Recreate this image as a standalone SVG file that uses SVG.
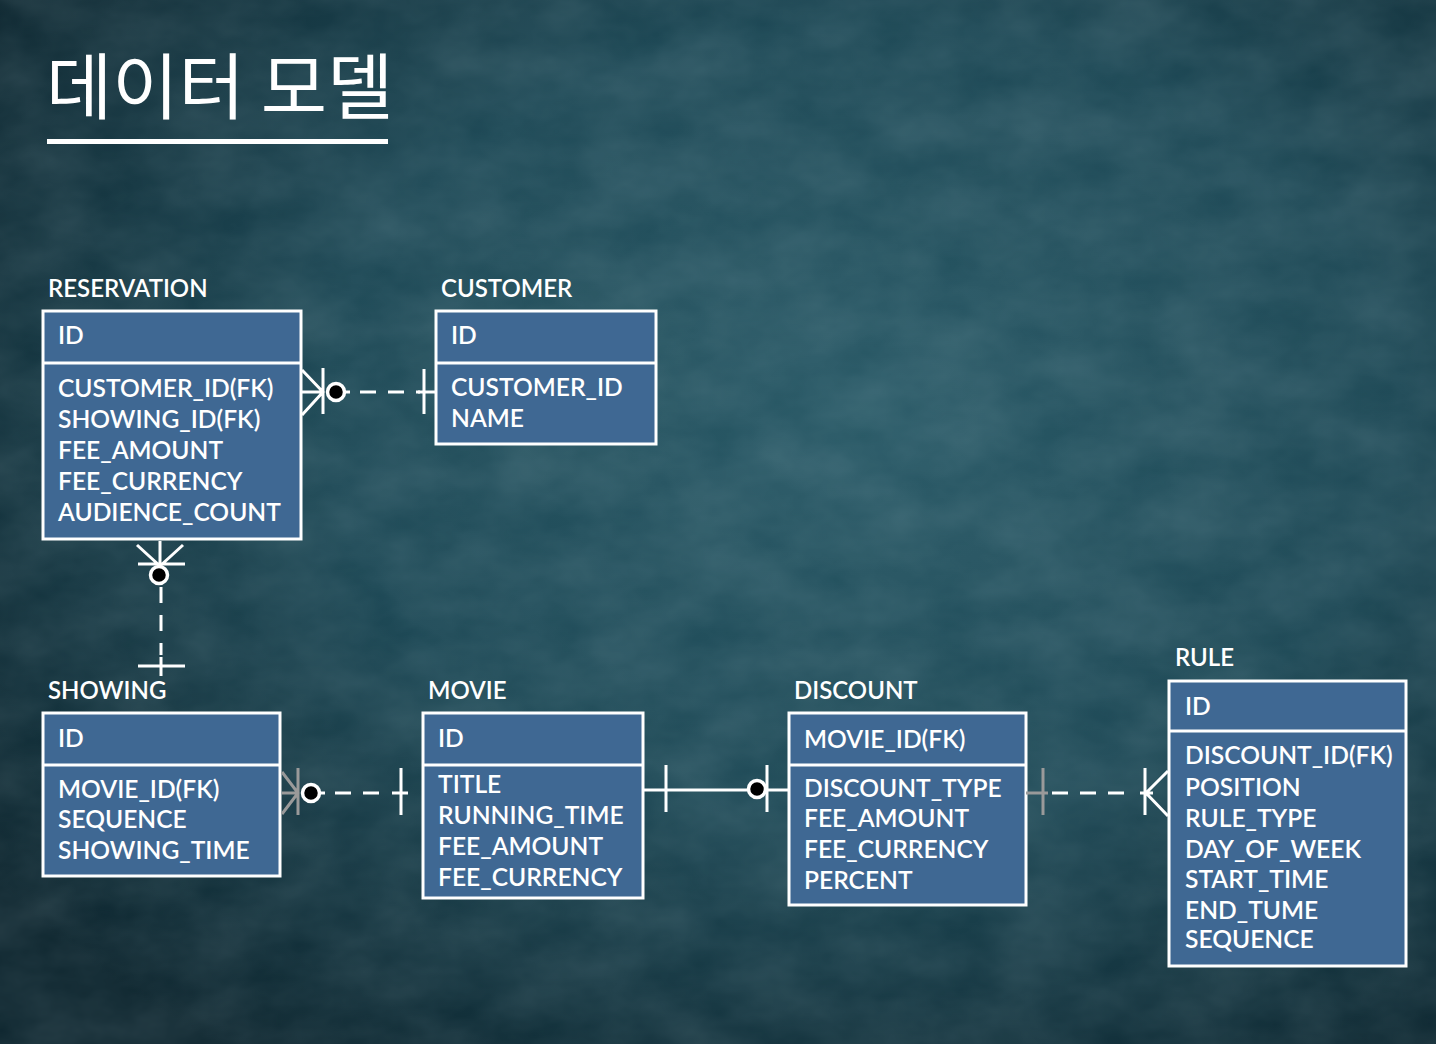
<svg xmlns="http://www.w3.org/2000/svg" width="1436" height="1044" viewBox="0 0 1436 1044">
<defs>
<radialGradient id="bg" cx="60%" cy="40%" r="75%">
<stop offset="0" stop-color="#2a5a67"/>
<stop offset="0.5" stop-color="#1e4956"/>
<stop offset="1" stop-color="#0d252e"/>
</radialGradient>
<filter id="noise" x="0" y="0" width="100%" height="100%">
<feTurbulence type="fractalNoise" baseFrequency="0.012 0.02" numOctaves="4" seed="7"/>
<feColorMatrix type="matrix" values="0 0 0 0 0.7  0 0 0 0 0.85  0 0 0 0 0.9  0 0 0 0.35 -0.05"/>
</filter>
<style>
.bx{fill:#3f6893;stroke:#fff;stroke-width:3}
.dv{stroke:#fff;stroke-width:3}
.t{font-family:Lato,"Noto Sans","Liberation Sans",sans-serif;font-size:24.6px;font-weight:600;fill:#fff}
.lb{font-family:Lato,"Noto Sans","Liberation Sans",sans-serif;font-size:24px;font-weight:600;fill:#fff}
.ln{stroke:#fff;stroke-width:3;fill:none}
.gr{stroke:#9a9a9a;stroke-width:3;fill:none}
.ds{stroke:#fff;stroke-width:3;fill:none;stroke-dasharray:16 12}
.cc{fill:#000;stroke:#fff;stroke-width:3.5}
</style>
</defs>
<rect width="1436" height="1044" fill="url(#bg)"/>
<rect width="1436" height="1044" filter="url(#noise)" opacity="0.45"/>

<g id="title">
<text x="46" y="113" font-family="'Noto Sans CJK KR',sans-serif" font-size="72" fill="#fff" font-weight="400">데이터 모델</text>
<rect x="47" y="139" width="341" height="5" fill="#fff"/>
</g>

<g id="reservation">
<text class="lb" x="48" y="297">RESERVATION</text>
<rect class="bx" x="43" y="311" width="258" height="228"/>
<line class="dv" x1="43" y1="363" x2="301" y2="363"/>
<text class="t" x="58" y="344">ID</text>
<text class="t" x="58" y="397">CUSTOMER_ID(FK)</text>
<text class="t" x="58" y="428">SHOWING_ID(FK)</text>
<text class="t" x="58" y="459">FEE_AMOUNT</text>
<text class="t" x="58" y="490">FEE_CURRENCY</text>
<text class="t" x="58" y="521">AUDIENCE_COUNT</text>
</g>

<g id="customer">
<text class="lb" x="441" y="297">CUSTOMER</text>
<rect class="bx" x="436" y="311" width="220" height="133"/>
<line class="dv" x1="436" y1="363" x2="656" y2="363"/>
<text class="t" x="451" y="344">ID</text>
<text class="t" x="451" y="396">CUSTOMER_ID</text>
<text class="t" x="451" y="427">NAME</text>
</g>

<g id="showing">
<text class="lb" x="48" y="699">SHOWING</text>
<rect class="bx" x="43" y="713" width="237" height="163"/>
<line class="dv" x1="43" y1="765" x2="280" y2="765"/>
<text class="t" x="58" y="747">ID</text>
<text class="t" x="58" y="798">MOVIE_ID(FK)</text>
<text class="t" x="58" y="828">SEQUENCE</text>
<text class="t" x="58" y="859">SHOWING_TIME</text>
</g>

<g id="movie">
<text class="lb" x="428" y="699">MOVIE</text>
<rect class="bx" x="423" y="713" width="220" height="185"/>
<line class="dv" x1="423" y1="765" x2="643" y2="765"/>
<text class="t" x="438" y="747">ID</text>
<text class="t" x="438" y="793">TITLE</text>
<text class="t" x="438" y="824">RUNNING_TIME</text>
<text class="t" x="438" y="855">FEE_AMOUNT</text>
<text class="t" x="438" y="886">FEE_CURRENCY</text>
</g>

<g id="discount">
<text class="lb" x="794" y="699">DISCOUNT</text>
<rect class="bx" x="789" y="713" width="237" height="192"/>
<line class="dv" x1="789" y1="765" x2="1026" y2="765"/>
<text class="t" x="804" y="748">MOVIE_ID(FK)</text>
<text class="t" x="804" y="797">DISCOUNT_TYPE</text>
<text class="t" x="804" y="827">FEE_AMOUNT</text>
<text class="t" x="804" y="858">FEE_CURRENCY</text>
<text class="t" x="804" y="889">PERCENT</text>
</g>

<g id="rule">
<text class="lb" x="1175" y="666">RULE</text>
<rect class="bx" x="1169" y="681" width="237" height="285"/>
<line class="dv" x1="1169" y1="731" x2="1406" y2="731"/>
<text class="t" x="1185" y="715">ID</text>
<text class="t" x="1185" y="764">DISCOUNT_ID(FK)</text>
<text class="t" x="1185" y="796">POSITION</text>
<text class="t" x="1185" y="827">RULE_TYPE</text>
<text class="t" x="1185" y="858">DAY_OF_WEEK</text>
<text class="t" x="1185" y="888">START_TIME</text>
<text class="t" x="1185" y="919">END_TUME</text>
<text class="t" x="1185" y="948">SEQUENCE</text>
</g>

<g id="connectors">
<!-- reservation - customer -->
<path class="ln" d="M302 370 L323 392 L302 415 M302 392 H323 M323 368 V414"/>
<circle class="cc" cx="336" cy="392" r="8.5"/>
<path class="ds" d="M360 392 H420"/>
<path class="ln" d="M345 392 H350 M418 392 H436 M424 369 V414"/>
<!-- reservation - showing -->
<path class="ln" d="M137 545 L160 566 L183 545 M160 541 V566 M138 564 H185"/>
<circle class="cc" cx="159" cy="575" r="8.5"/>
<path class="ds" d="M161 587 V655"/>
<path class="ln" d="M138 666 H185 M161 657 V676"/>
<!-- showing - movie -->
<path class="gr" d="M282 772 L298 793 L282 814 M282 793 H298 M298 768 V815"/>
<circle class="cc" cx="311" cy="793" r="8.5"/>
<path class="ds" d="M335 793 H390"/>
<path class="ln" d="M320 793 H325 M392 793 H408 M401 768 V815"/>
<!-- movie - discount -->
<path class="ln" d="M643 790 H789 M666 765 V812 M767 765 V812"/>
<circle class="cc" cx="757" cy="789" r="8.5"/>
<!-- discount - rule -->
<path class="gr" d="M1026 793 H1048 M1043 768 V815"/>
<path class="ds" d="M1052 793 H1135"/>
<path class="ln" d="M1140 793 H1153 M1145 768 V815 M1168 771 L1146 793 L1168 816"/>
</g>
</svg>
